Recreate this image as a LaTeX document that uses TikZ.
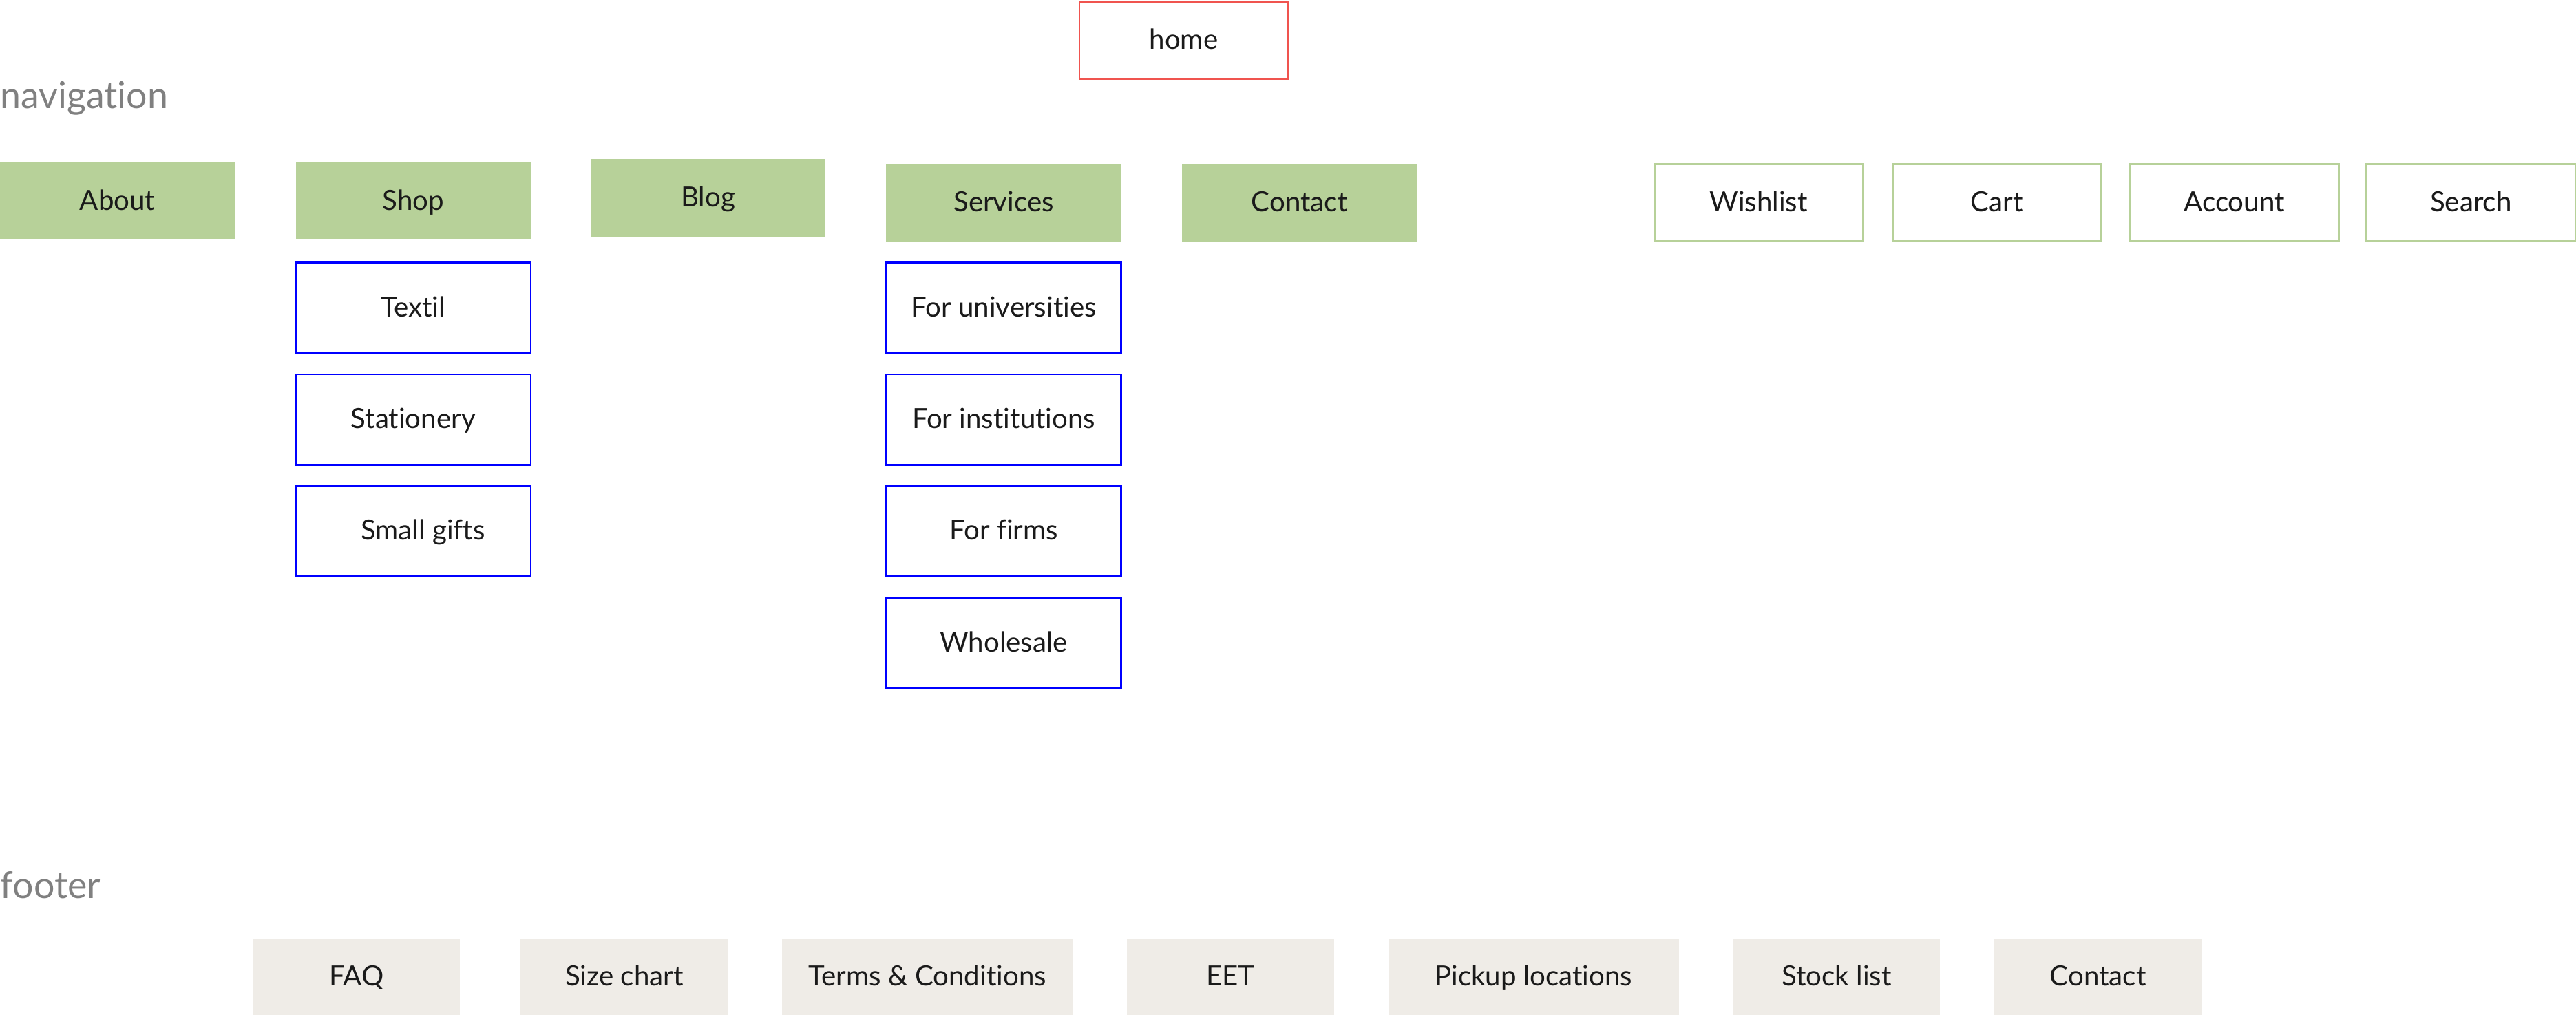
\documentclass[tikz,border=0pt]{standalone}
\usepackage{fontspec}
\setmainfont{Lato}[Ligatures=NoCommon]
\usepackage{tikz}

\definecolor{navgreen}{HTML}{B7D199}
\definecolor{homered}{HTML}{F0544F}
\definecolor{subblue}{HTML}{0000FF}
\definecolor{footgrey}{HTML}{EFECE7}
\definecolor{labelgrey}{HTML}{808080}
\definecolor{textblack}{HTML}{1A1A1A}

\tikzset{
    page/.style={x=0.025cm, y=-0.025cm},
    box/.style={rectangle, inner sep=0pt, text height=9.6pt, text depth=2pt,
        text=textblack, font=\fontsize{12}{14}\selectfont},
    homebox/.style={box, draw=homered, line width=0.8pt, minimum width=3.175cm, minimum height=1.175cm},
    navbox/.style={box, fill=navgreen, minimum width=3.575cm, minimum height=1.175cm},
    toolbox/.style={box, draw=navgreen, line width=0.8pt, minimum width=3.175cm, minimum height=1.175cm},
    subbox/.style={box, draw=subblue, line width=0.8pt, minimum width=3.575cm, minimum height=1.375cm},
    footbox/.style={box, fill=footgrey, minimum width=3.15cm, minimum height=1.15cm},
    widefoot/.style={footbox, minimum width=4.425cm},
    section/.style={anchor=base west, inner sep=0pt, text=labelgrey, font=\fontsize{16}{19}\selectfont}
}

\begin{document}
\begin{tikzpicture}[page]
    \useasboundingbox (0,0) rectangle (1568,619.3);

    \node[homebox](home)        at (720.5,24.5) {home};

    \node[section](nav)         at (0,66) {navigation};
    \node[navbox](about)        at (71.5,122.5) {About};
    \node[navbox](shop)         at (251.5,122.5) {Shop};
    \node[navbox](blog)         at (431,120.5) {Blog};
    \node[navbox](services)     at (611,123.5) {Services};
    \node[navbox](contact)      at (791,123.5) {Contact};

    \node[toolbox](wishlist)    at (1070.5,123.5) {Wishlist};
    \node[toolbox](cart)        at (1215.5,123.5) {Cart};
    \node[toolbox](account)     at (1360,123.5) {Account};
    \node[toolbox](search)      at (1504,123.5) {Search};

    \node[subbox](textil)       at (251.5,187.5) {Textil};
    \node[subbox](stationery)   at (251.5,255.5) {Stationery};
    \node[subbox](gifts)        at (251.5,323.5) {\hspace{0.3cm}Small gifts};

    \node[subbox](universities) at (611,187.5) {For universities};
    \node[subbox](institutions) at (611,255.5) {For institutions};
    \node[subbox](firms)        at (611,323.5) {For firms};
    \node[subbox](wholesale)    at (611,391.5) {Wholesale};

    \node[section](foot)        at (0,547) {footer};
    \node[footbox](faq)         at (217,595) {FAQ};
    \node[footbox](size)        at (380,595) {Size chart};
    \node[widefoot](terms)      at (564.5,595) {Terms \& Conditions};
    \node[footbox](eet)         at (749,595) {EET};
    \node[widefoot](pickup)     at (933.5,595) {Pickup locations};
    \node[footbox](stock)       at (1118,595) {Stock list};
    \node[footbox](fcontact)    at (1277,595) {Contact};
\end{tikzpicture}
\end{document}
